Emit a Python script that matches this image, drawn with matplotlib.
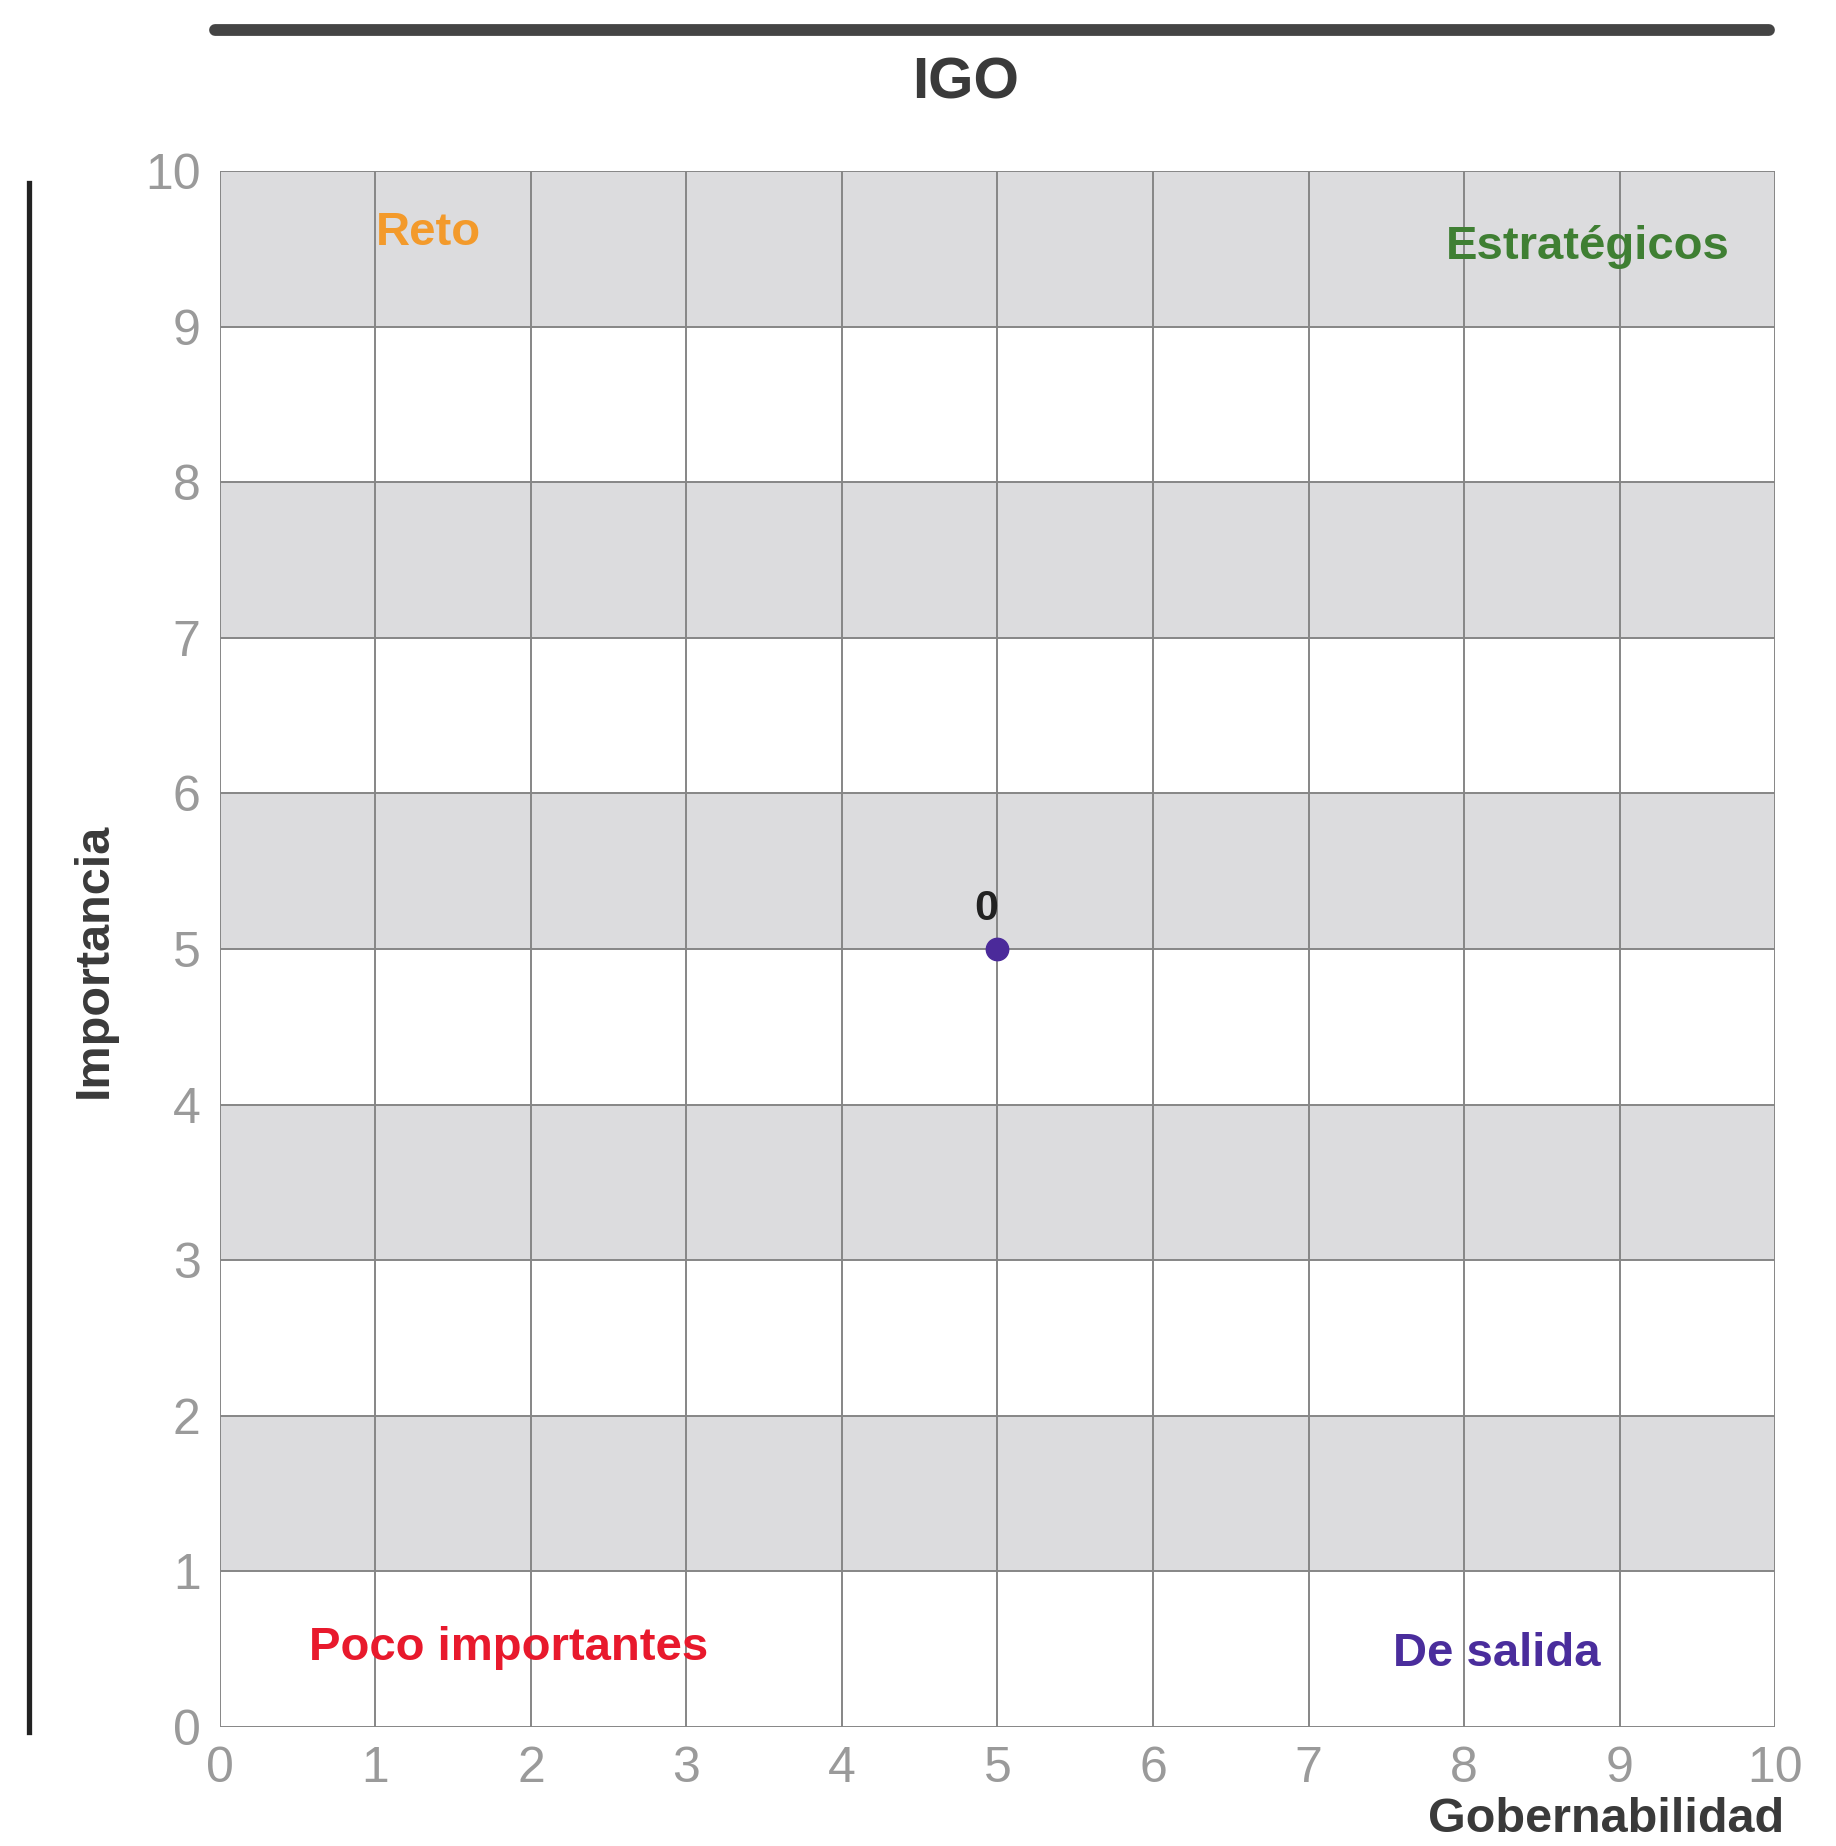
import matplotlib
matplotlib.use("Agg")
import matplotlib.pyplot as plt
from matplotlib.lines import Line2D

plt.rcParams['font.family'] = ['Liberation Sans', 'DejaVu Sans']

# Data
title = "IGO"
x_label = "Gobernabilidad"
y_label = "Importancia"
point_x = [5]
point_y = [5]
point_labels = ["0"]
x_ticks = [0, 1, 2, 3, 4, 5, 6, 7, 8, 9, 10]
y_ticks = [0, 1, 2, 3, 4, 5, 6, 7, 8, 9, 10]
band_starts = [1, 3, 5, 7, 9]
quad_names = ["Reto", "Estratégicos", "Poco importantes", "De salida"]
quad_x = [1.0, 9.71, 0.575, 8.88]
quad_y = [9.6, 9.51, 0.51, 0.47]
quad_ha = ["left", "right", "left", "right"]
quad_colors = ["#f39a2b", "#3f7f33", "#e8192c", "#4a2d9c"]

fig = plt.figure(figsize=(18.36, 18.46), dpi=100)
ax = fig.add_axes([0.1198, 0.0645, 0.8470, 0.8429])
ax.set_xlim(0, 10)
ax.set_ylim(0, 10)

for b in band_starts:
    ax.axhspan(b, b + 1, color="#dcdcde", zorder=0, lw=0)

for t in x_ticks:
    ax.axvline(t, color="#868686", lw=1.4, zorder=1)
for t in y_ticks:
    ax.axhline(t, color="#868686", lw=1.4, zorder=1)

for s in ax.spines.values():
    s.set_visible(False)

ax.set_xticks(x_ticks)
ax.set_yticks(y_ticks)
ax.tick_params(length=0, labelsize=36, labelcolor="#9a9a9a", pad=14)

ax.scatter(point_x, point_y, s=260, color="#4b2a9a", zorder=5)
for px, py, lab in zip(point_x, point_y, point_labels):
    ax.annotate(lab, (px, py), xytext=(-8, 14), textcoords="offset points",
                ha="center", va="bottom", fontsize=31, fontweight="bold",
                color="#222222", zorder=6)

for name, qx, qy, ha, c in zip(quad_names, quad_x, quad_y, quad_ha, quad_colors):
    ax.text(qx, qy, name, ha=ha, va="center", fontsize=34, fontweight="bold",
            color=c, zorder=4)

fig.text(0.526, 0.955, title, ha="center", va="center", fontsize=42,
         fontweight="bold", color="#3a3a3a")
fig.text(0.875, 0.002, x_label, ha="center", va="bottom", fontsize=35,
         fontweight="bold", color="#3a3a3a")
fig.text(0.0513, 0.48, y_label, ha="center", va="center", rotation=90,
         fontsize=35, fontweight="bold", color="#3a3a3a")

fig.add_artist(Line2D([0.117, 0.9635], [0.984, 0.984], color="#444444",
                      lw=8.5, solid_capstyle="round", transform=fig.transFigure))
fig.add_artist(Line2D([0.016, 0.016], [0.062, 0.901], color="#222222",
                      lw=3.8, transform=fig.transFigure))

fig.savefig("out.png", dpi=100, facecolor="white")
